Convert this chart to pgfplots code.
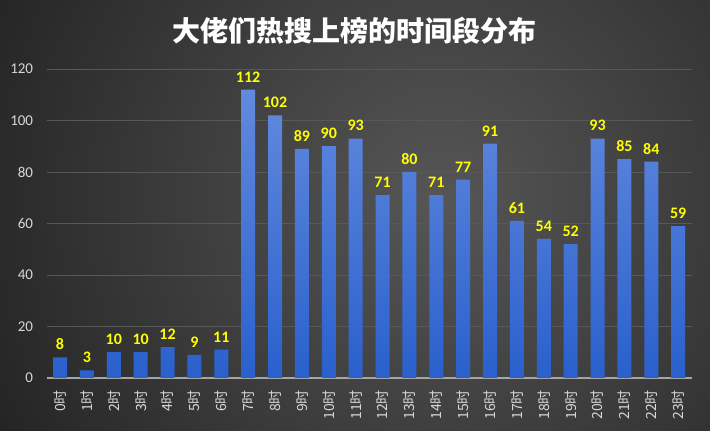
\documentclass[border=0pt]{standalone}
\usepackage{pgfplots}
\pgfplotsset{compat=1.18}
\usepackage{fontspec}
\setmainfont{Carlito}
\newfontfamily\cjk{Noto Sans CJK SC}
\definecolor{bgin}{RGB}{86,86,86}
\definecolor{bgout}{RGB}{34,34,34}
\definecolor{barTop}{RGB}{98,138,222}
\definecolor{barBot}{RGB}{42,96,205}
\definecolor{gridc}{RGB}{88,88,88}
\definecolor{axc}{RGB}{165,165,165}
\definecolor{tickc}{RGB}{215,215,215}
\definecolor{labc}{RGB}{255,255,0}
\pgfplotstableread{
x y
0 8
1 3
2 10
3 10
4 12
5 9
6 11
7 112
8 102
9 89
10 90
11 93
12 71
13 80
14 71
15 77
16 91
17 61
18 54
19 52
20 93
21 85
22 84
23 59
}\datatable
\begin{document}
\begin{tikzpicture}[x=1pt,y=1pt]
\useasboundingbox (0,0) rectangle (710,431);
\begin{scope}
\clip (0,0) rectangle (710,431);
\fill[bgout] (0,0) rectangle (710,431);
\shade[inner color=bgin, outer color=bgout] (440,230) circle (520);
\end{scope}
\node[font=\cjk\bfseries\fontsize{28}{28}\selectfont, text=white] at (354,400) {大佬们热搜上榜的时间段分布};
\begin{axis}[
  at={(46.6pt,53pt)}, anchor=south west,
  scale only axis, width=645pt, height=309pt,
  xmin=-0.5, xmax=23.5, ymin=0, ymax=120,
  ybar, bar width=14pt,
  xtick=data,
  xticklabels={0时,1时,2时,3时,4时,5时,6时,7时,8时,9时,10时,11时,12时,13时,14时,15时,16时,17时,18时,19时,20时,21时,22时,23时},
  x tick label style={rotate=90, anchor=east, font=\cjk\fontsize{14}{14}\selectfont, text=tickc, inner sep=2pt, xshift=-10pt},
  ytick={0,20,...,120},
  y tick label style={font=\fontsize{15}{15}\selectfont, text=tickc, xshift=-10pt},
  /pgf/number format/assume math mode=true,
  major tick length=0pt,
  ymajorgrids, grid style={draw=gridc, line width=0.8pt},
  axis x line*=bottom, axis y line*=left,
  x axis line style={-, draw=axc, line width=1.5pt},
  y axis line style={draw=none},
  nodes near coords,
  every node near coord/.append style={font=\bfseries\fontsize{16}{16}\selectfont, text=labc, yshift=4pt},
  clip=false,
]
\addplot[draw=none, top color=barTop, bottom color=barBot] table[x=x,y=y] {\datatable};
\end{axis}
\end{tikzpicture}
\end{document}
